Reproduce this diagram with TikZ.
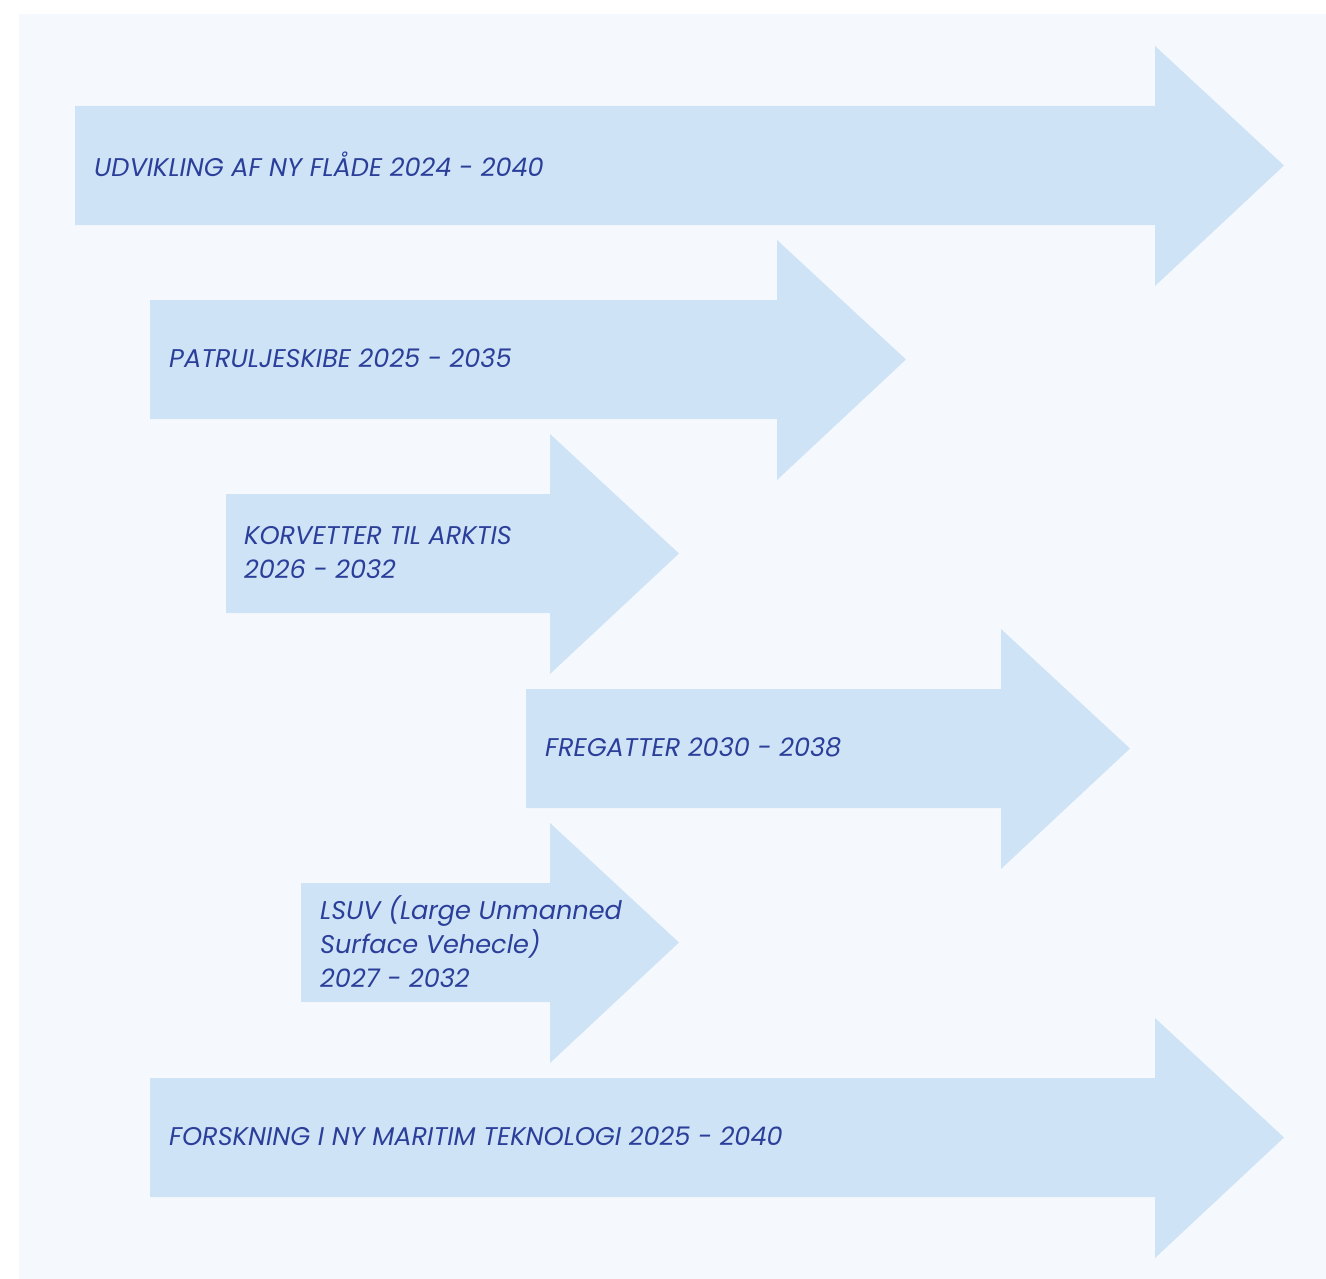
\documentclass[tikz,border=0pt]{standalone}
\usepackage{fontspec}
\setmainfont{Poppins}
\definecolor{panel}{HTML}{F5F9FE}
\definecolor{arrowfill}{HTML}{CFE3F6}
\definecolor{labeltext}{HTML}{2B3F9A}
\tikzset{
  arrowbody/.style={fill=arrowfill, draw=none},
  arrowlabel/.style={anchor=west, inner sep=0pt, text=labeltext, font=\itshape\fontsize{25.6}{34}\selectfont, align=left}
}
% #1 left x, #2 body top y, #3 head start x, #4 tip x
\newcommand{\timearrow}[4]{%
  \fill[arrowbody] (#1,#2) -- (#3,#2) -- (#3,#2-60) -- (#4,#2+59.5) -- (#3,#2+180) -- (#3,#2+119) -- (#1,#2+119) -- cycle;}
\begin{document}
\begin{tikzpicture}[x=1pt,y=-1pt]
\useasboundingbox (0,0) rectangle (1326,1279);
\fill[white] (0,0) rectangle (1326,1279);
\fill[panel] (19,14) rectangle (1326,1279);
\timearrow{75}{106}{1155}{1284}
\timearrow{150}{300}{777}{906}
\timearrow{226}{494}{550}{679}
\timearrow{526}{689}{1001}{1130}
\timearrow{301}{883}{550}{679}
\timearrow{150}{1078}{1155}{1284}
\node[arrowlabel] (udvikling) at (94,164) {UDVIKLING AF NY FLÅDE 2024 - 2040};
\node[arrowlabel] (patrulje) at (169,358) {PATRULJESKIBE 2025 - 2035};
\node[arrowlabel] (korvetter) at (244,553) {KORVETTER TIL ARKTIS\\2026 - 2032};
\node[arrowlabel] (fregatter) at (545,747) {FREGATTER 2030 - 2038};
\node[arrowlabel] (lsuv) at (320,942) {LSUV (Large Unmanned\\Surface Vehecle)\\2027 - 2032};
\node[arrowlabel] (forskning) at (169,1136) {FORSKNING I NY MARITIM TEKNOLOGI 2025 - 2040};
\end{tikzpicture}
\end{document}
